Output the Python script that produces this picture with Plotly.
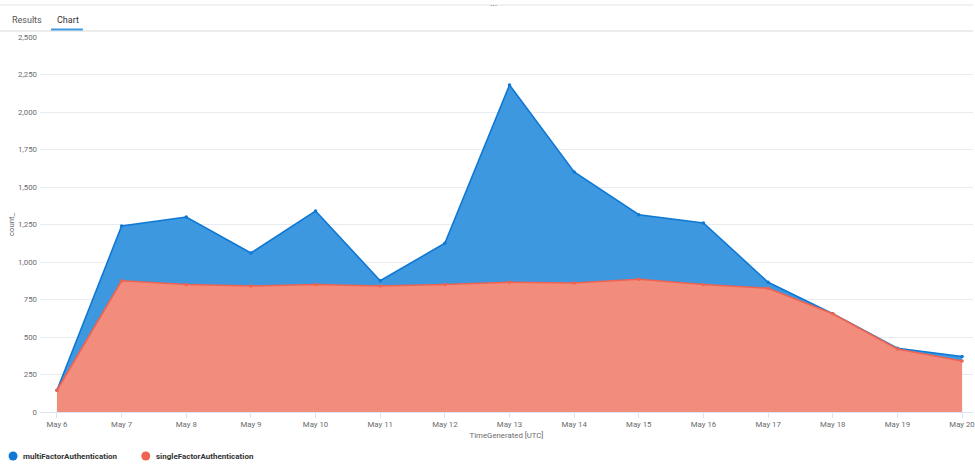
import plotly.graph_objects as go

days = ["2023-05-06", "2023-05-07", "2023-05-08", "2023-05-09", "2023-05-10",
        "2023-05-11", "2023-05-12", "2023-05-13", "2023-05-14", "2023-05-15",
        "2023-05-16", "2023-05-17", "2023-05-18", "2023-05-19", "2023-05-20"]
multi_factor = [145, 1240, 1300, 1060, 1340, 875, 1125, 2180, 1600, 1315, 1260, 865, 655, 425, 370]
single_factor = [145, 875, 850, 840, 850, 840, 850, 865, 860, 885, 850, 825, 655, 420, 340]
series_names = ["multiFactorAuthentication", "singleFactorAuthentication"]

BLUE = "#0f78d4"
RED = "#ef6350"
FONT = "Roboto"
LEFT, RIGHT, TOP, BOTTOM = 40, 0, 37, 63
WIDTH, HEIGHT = 975, 475


def px_x(px):
    return (px - LEFT) / (WIDTH - LEFT - RIGHT)


def px_y(py):
    return (HEIGHT - BOTTOM - py) / (HEIGHT - TOP - BOTTOM)


def label(fig, x, y, text, size, color, anchor="left", weight=400):
    fig.add_annotation(xref="paper", yref="paper", x=px_x(x), y=px_y(y), text=text,
                       showarrow=False, xanchor=anchor, yanchor="middle",
                       xshift=0, borderpad=0,
                       font=dict(size=size, color=color, family=FONT, weight=weight))


def dot(fig, x, y, color):
    fig.add_shape(type="circle", xref="paper", yref="paper",
                  x0=px_x(x - 4.5), x1=px_x(x + 4.5), y0=px_y(y + 4.5), y1=px_y(y - 4.5),
                  fillcolor=color, line_width=0)


fig = go.Figure()
fig.add_trace(go.Scatter(x=days, y=multi_factor, mode="lines+markers", fill="tozeroy",
                         name=series_names[0], fillcolor="#3d98e0",
                         line=dict(color=BLUE, width=1.6),
                         marker=dict(color=BLUE, size=3.5), showlegend=False))
fig.add_trace(go.Scatter(x=days, y=single_factor, mode="lines+markers", fill="tozeroy",
                         name=series_names[1], fillcolor="rgba(246,140,122,0.98)",
                         line=dict(color=RED, width=1.6),
                         marker=dict(color=RED, size=3.5), showlegend=False))

fig.update_layout(
    width=WIDTH, height=HEIGHT,
    autosize=False,
    margin=dict(l=LEFT, r=RIGHT, t=TOP, b=BOTTOM),
    paper_bgcolor="white",
    plot_bgcolor="white",
    font=dict(family=FONT, size=7.8, color="#6b6b6b"),
    showlegend=False,
)
fig.update_xaxes(
    type="date",
    range=["2023-05-05 17:42", "2023-05-20 04:04"],
    tickvals=days,
    tickformat="%b %-d",
    ticklabeloverflow="allow",
    ticks="outside", ticklen=5, tickcolor="#dde5f2", tickwidth=1,
    showgrid=False, showline=True, linecolor="#dde5f2", linewidth=1,
    zeroline=False,
    title=dict(text="TimeGenerated [UTC]", font=dict(size=7.8, color="#6b6b6b"), standoff=4),
)
fig.update_yaxes(
    range=[0, 2500],
    tick0=0, dtick=250, tickformat=",d",
    gridcolor="#e8ebf0", gridwidth=1,
    showline=False, zeroline=False,
    ticks="", ticklabelstandoff=2,
    title=dict(text="count_", font=dict(size=7.8, color="#6b6b6b"), standoff=2),
)

# tab strip above the chart
fig.add_shape(type="rect", xref="paper", yref="paper", x0=px_x(0), x1=1, y0=px_y(6), y1=px_y(4),
              fillcolor="#f1f1f1", line_width=0)
fig.add_shape(type="line", xref="paper", yref="paper", x0=px_x(0), x1=1, y0=px_y(31), y1=px_y(31),
              line=dict(color="#ececec", width=2))
fig.add_shape(type="line", xref="paper", yref="paper", x0=px_x(51), x1=px_x(83), y0=px_y(29.5), y1=px_y(29.5),
              line=dict(color="#3f9bdc", width=2))
label(fig, 11, 20, "Results", 9, "#555555")
label(fig, 56, 20, "Chart", 9, "#333333")
label(fig, 494, 6, "···", 9, "#555555", anchor="center")

# legend row
dot(fig, 13, 456, BLUE)
dot(fig, 146, 456, RED)
label(fig, 22, 456.5, series_names[0], 8, "#333333", weight=700)
label(fig, 155, 456.5, series_names[1], 8, "#333333", weight=700)

fig.write_html("out.html", config=dict(displayModeBar=False),
               post_script="document.body.style.margin='0';")
